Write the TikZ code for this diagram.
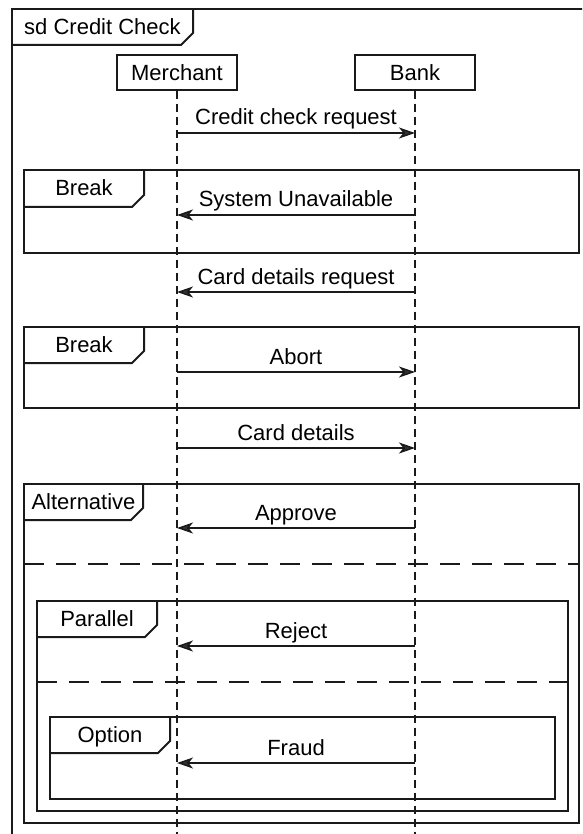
\documentclass[tikz,border=0pt]{standalone}
\usepackage{fontspec}
\setmainfont{Liberation Sans}
\usetikzlibrary{arrows.meta}

\definecolor{ink}{HTML}{1A1A1A}
\definecolor{headfill}{HTML}{333333}
\newcommand\diagfont{\fontsize{22}{26}\selectfont}

% combined fragment: x1, y1, x2, y2, tab right, tab bottom, node name, operator label
\newcommand\sdfragment[8]{%
  \draw[frameline] (#1,#2) rectangle (#3,#4);
  \draw[frameline] (#1,#6) -- (#5-12,#6) -- (#5,#6-12) -- (#5,#2);
  \node[taglabel] (#7) at ({(#1+#5)/2},{(#2+#6)/2+7.5}) {#8};
}

\tikzset{
  frameline/.style={draw=ink, line width=2pt, line join=miter},
  lifehead/.style={draw=ink, line width=1.5pt, minimum width=120pt,
    minimum height=35pt, inner sep=0pt, font=\diagfont},
  lifeline/.style={draw=ink, line width=1.3pt, dash pattern=on 8pt off 5pt},
  msg/.style={draw=ink, line width=1.5pt,
    -{Stealth[length=16pt, width=11pt, inset=4.5pt, fill=headfill]}},
  msglabel/.style={anchor=base, yshift=8pt, inner sep=0pt, font=\diagfont},
  divider/.style={draw=ink, line width=2.2pt, dash pattern=on 20pt off 12pt},
  taglabel/.style={anchor=base, inner sep=0pt, font=\diagfont},
}

\begin{document}
\begin{tikzpicture}[x=1pt, y=-1pt]
\useasboundingbox (0,0) rectangle (582,834);
\begin{scope}
\clip (0,0) rectangle (582,834);

% outer sequence diagram frame
\sdfragment{12}{9}{600}{860}{193}{45}{title}{sd Credit Check}

% lifelines
\node[lifehead] (merchant) at (177,72.5) {Merchant};
\node[lifehead] (bank) at (415,72.5) {Bank};
\coordinate (mEnd) at (177,845);
\coordinate (bEnd) at (415,845);
\draw[lifeline] (merchant.south) -- (mEnd);
\draw[lifeline] (bank.south) -- (bEnd);

% combined fragments
\sdfragment{24}{170}{579}{253}{144}{207}{break1}{Break}
\sdfragment{24}{327}{579}{408}{144}{363}{break2}{Break}
\sdfragment{24}{484}{579}{823}{143}{520}{alt}{Alternative}
\coordinate (altL) at (24,564);
\coordinate (altR) at (579,564);
\draw[divider] (altL) -- (altR);
\sdfragment{37}{601}{568}{811}{157}{637}{par}{Parallel}
\coordinate (parL) at (37,682);
\coordinate (parR) at (568,682);
\draw[divider] (parL) -- (parR);
\sdfragment{50}{717}{555}{799}{170}{753}{opt}{Option}

% message end points on the lifelines
\foreach \n/\y in {1/133,2/215,3/292,4/372,5/448,6/528,7/646,8/763}{
  \coordinate (m\n) at (177,\y);
  \coordinate (b\n) at (415,\y);
}

% messages
\draw[msg] (m1) -- node[msglabel] {Credit check request} (b1);
\draw[msg] (b2) -- node[msglabel] {System Unavailable} (m2);
\draw[msg] (b3) -- node[msglabel] {Card details request} (m3);
\draw[msg] (m4) -- node[msglabel] {Abort} (b4);
\draw[msg] (m5) -- node[msglabel] {Card details} (b5);
\draw[msg] (b6) -- node[msglabel] {Approve} (m6);
\draw[msg] (b7) -- node[msglabel] {Reject} (m7);
\draw[msg] (b8) -- node[msglabel] {Fraud} (m8);
\end{scope}
\end{tikzpicture}
\end{document}
